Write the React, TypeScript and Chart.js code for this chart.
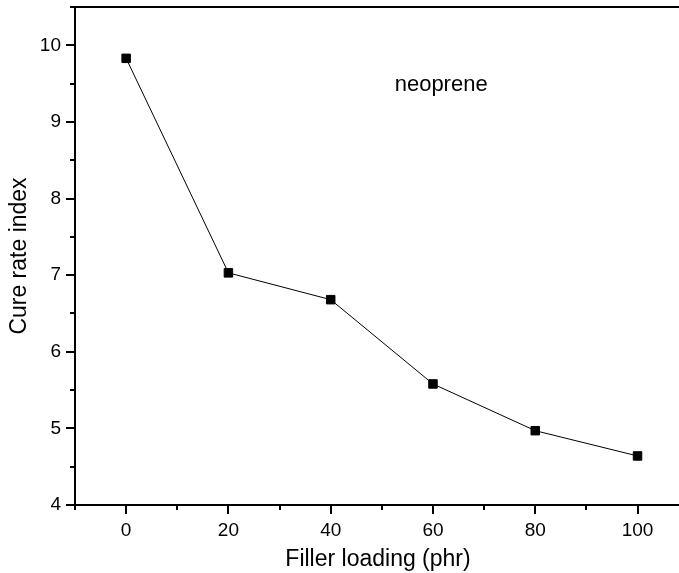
import React, { useEffect, useRef } from 'react';
import { Chart, registerables } from 'chart.js';

Chart.register(...registerables);

const fillerLoading = [0, 20, 40, 60, 80, 100];
const cureRateIndex = [9.83, 7.03, 6.68, 5.58, 4.97, 4.64];
const xTickValues = [0, 20, 40, 60, 80, 100];
const yTickValues = [4, 5, 6, 7, 8, 9, 10];
const xMinorStep = 10;
const yMinorStep = 0.5;
const annotationText = 'neoprene';
const annotationX = 61.6;
const annotationY = 9.48;

const FONT = '"Liberation Sans", Arial, Helvetica, sans-serif';

const zeroPad = (s: any) => {
  s.paddingTop = 0;
  s.paddingBottom = 0;
  s.paddingLeft = 0;
  s.paddingRight = 0;
};

const framePlugin = {
  id: 'originFrame',
  afterDraw(chart: any) {
    const { ctx, chartArea: a, scales } = chart;
    const x = scales.x;
    const y = scales.y;
    ctx.save();
    ctx.strokeStyle = '#000';
    ctx.lineWidth = 2;
    ctx.lineCap = 'butt';
    ctx.beginPath();
    ctx.moveTo(a.left - 1, a.top);
    ctx.lineTo(a.right, a.top);
    ctx.moveTo(a.left, a.top);
    ctx.lineTo(a.left, a.bottom + 1);
    ctx.moveTo(a.left - 1, a.bottom);
    ctx.lineTo(a.right, a.bottom);
    ctx.stroke();

    ctx.beginPath();
    for (let v = x.min; v <= x.max + 1e-6; v += xMinorStep) {
      const px = Math.round(x.getPixelForValue(v));
      const major = Math.abs(v % 20) < 1e-6;
      const len = major ? 9 : 5;
      ctx.moveTo(px, a.bottom);
      ctx.lineTo(px, a.bottom + len);
    }
    for (let v = y.min; v <= y.max + 1e-6; v += yMinorStep) {
      const py = Math.round(y.getPixelForValue(v));
      const major = Math.abs(v - Math.round(v)) < 1e-6;
      const len = major ? 9 : 5;
      ctx.moveTo(a.left, py);
      ctx.lineTo(a.left - len, py);
    }
    ctx.stroke();

    ctx.fillStyle = '#000';
    ctx.font = `22px ${FONT}`;
    ctx.textAlign = 'center';
    ctx.textBaseline = 'middle';
    ctx.fillText(annotationText, x.getPixelForValue(annotationX), y.getPixelForValue(annotationY));
    ctx.restore();
  },
};

export default function App() {
  const ref = useRef<HTMLCanvasElement | null>(null);

  useEffect(() => {
    document.body.style.margin = '0';
    document.body.style.overflow = 'hidden';
    const canvas = ref.current;
    if (!canvas) return;
    const chart = new Chart(canvas, {
      type: 'scatter',
      data: {
        datasets: [
          {
            label: 'Cure rate index',
            data: fillerLoading.map((v, i) => ({ x: v, y: cureRateIndex[i] })),
            showLine: true,
            borderColor: '#000',
            borderWidth: 1,
            backgroundColor: '#000',
            pointStyle: 'rect',
            pointRadius: 6,
            pointBorderWidth: 1,
            pointBorderColor: '#000',
            pointBackgroundColor: '#000',
          },
        ],
      },
      options: {
        responsive: false,
        animation: false,
        layout: { padding: { top: 6.7, right: 0, left: 0, bottom: 0 } },
        plugins: {
          legend: { display: false },
          tooltip: { enabled: false },
        },
        scales: {
          x: {
            type: 'linear',
            min: -10,
            max: 108.5,
            afterBuildTicks: (s: any) => {
              s.ticks = xTickValues.map((v) => ({ value: v }));
            },
            afterFit: (s: any) => {
              s.height = 68;
              zeroPad(s);
            },
            grid: { display: false, drawTicks: false },
            border: { display: false },
            ticks: {
              color: '#000',
              font: { family: FONT, size: 19 },
              padding: 14,
              maxRotation: 0,
              autoSkip: false,
            },
            title: {
              display: true,
              text: 'Filler loading (phr)',
              color: '#000',
              font: { family: FONT, size: 23 },
              padding: { top: 8, bottom: 0 },
            },
          },
          y: {
            type: 'linear',
            min: 4,
            max: 10.5,
            afterBuildTicks: (s: any) => {
              s.ticks = yTickValues.map((v) => ({ value: v }));
            },
            afterFit: (s: any) => {
              s.width = 75;
              zeroPad(s);
            },
            grid: { display: false, drawTicks: false },
            border: { display: false },
            ticks: {
              color: '#000',
              font: { family: FONT, size: 19 },
              padding: 14,
              autoSkip: false,
            },
            title: {
              display: true,
              text: 'Cure rate index',
              color: '#000',
              font: { family: FONT, size: 23 },
              padding: { top: 6, bottom: 0 },
            },
          },
        },
      },
      plugins: [framePlugin],
    });
    return () => chart.destroy();
  }, []);

  return (
    <div style={{ width: 679, height: 573, overflow: 'hidden' }}>
      <canvas ref={ref} width={688} height={573} style={{ display: 'block' }} />
    </div>
  );
}
